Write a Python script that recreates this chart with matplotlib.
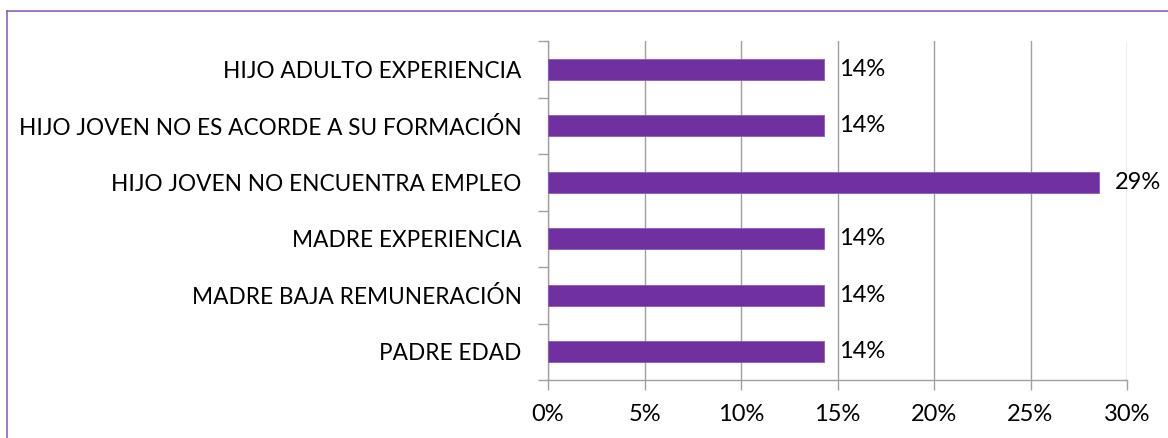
import matplotlib
matplotlib.use("Agg")
import matplotlib.pyplot as plt
from matplotlib.lines import Line2D
from matplotlib.ticker import FixedLocator, PercentFormatter

categories = ["PADRE EDAD", "MADRE BAJA REMUNERACIÓN", "MADRE EXPERIENCIA",
              "HIJO JOVEN NO ENCUENTRA EMPLEO", "HIJO JOVEN NO ES ACORDE A SU FORMACIÓN",
              "HIJO ADULTO EXPERIENCIA"]
values = [14.29, 14.29, 14.29, 28.57, 14.29, 14.29]
labels = ["14%", "14%", "14%", "29%", "14%", "14%"]
xticks = [0, 5, 10, 15, 20, 25, 30]

plt.rcParams['font.family'] = ['Lato', 'DejaVu Sans']
fig = plt.figure(figsize=(11.68, 4.38), dpi=100)
ax = fig.add_axes([548/1168, (438-380)/438, (1127-548)/1168, (380-41)/438])

bar_color = "#7030A0"
grid_color = "#A0A0A0"
y = list(range(len(categories)))
ax.barh(y, values, height=0.38, color=bar_color, edgecolor="#8E5BC0", linewidth=0.6, zorder=3)
for yi, v, lab in zip(y, values, labels):
    ax.text(v + 0.8, yi, lab, va="center", ha="left", fontsize=17, color="black", zorder=4)

ax.set_xlim(0, 30)
ax.set_ylim(-0.5, len(categories) - 0.5)
ax.set_xticks(xticks)
ax.xaxis.set_major_formatter(PercentFormatter(decimals=0))
ax.set_yticks(y)
ax.set_yticklabels(categories)
ax.yaxis.set_minor_locator(FixedLocator([i - 0.5 for i in range(len(categories) + 1)]))
ax.tick_params(axis='y', which='major', length=0, pad=19, labelsize=16.3)
ax.tick_params(axis='y', which='minor', length=7, color=grid_color, width=1)
ax.tick_params(axis='x', which='major', length=7, color=grid_color, width=1, labelsize=17, pad=10.5)

ax.grid(axis='x', color=grid_color, linewidth=1, zorder=0)
for s in ["top", "right"]:
    ax.spines[s].set_visible(False)
ax.spines["left"].set_color(grid_color)
ax.spines["bottom"].set_color(grid_color)
ax.spines["left"].set_linewidth(1)
ax.spines["bottom"].set_linewidth(1)

# outer chart frame (top and left edges visible)
frame_color = "#8B62C0"
fig.add_artist(Line2D([7/1168, 1.0], [1 - 11/438, 1 - 11/438], transform=fig.transFigure,
                      color=frame_color, linewidth=1.2))
fig.add_artist(Line2D([7/1168, 7/1168], [0.0, 1 - 11/438], transform=fig.transFigure,
                      color=frame_color, linewidth=1.2))

fig.savefig("out.png", dpi=100)
